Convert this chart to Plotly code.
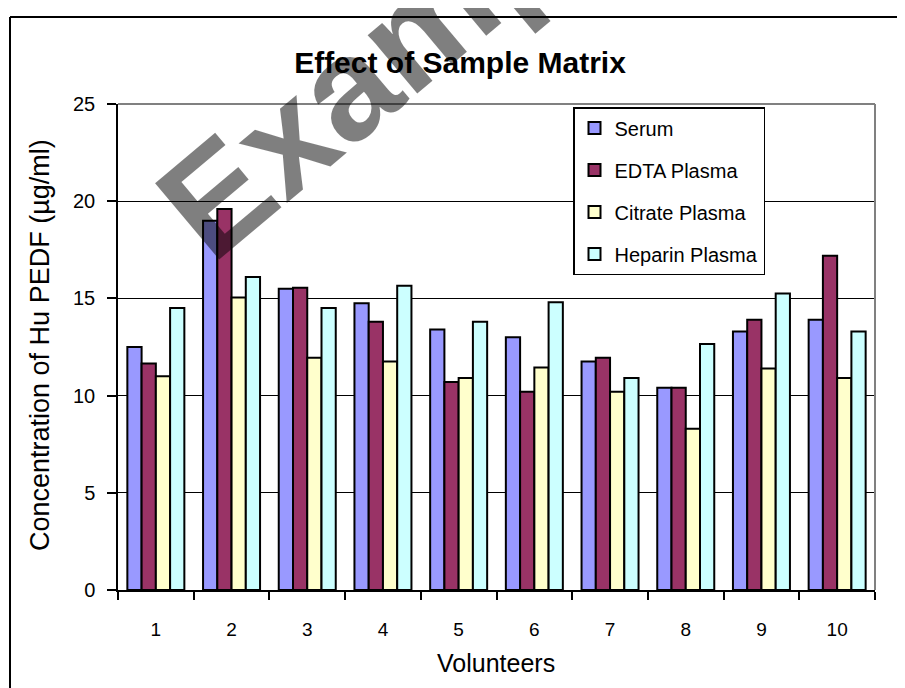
import plotly.graph_objects as go

volunteers = ["1", "2", "3", "4", "5", "6", "7", "8", "9", "10"]
serum = [12.5, 19.0, 15.5, 14.75, 13.4, 13.0, 11.75, 10.4, 13.3, 13.9]
edta = [11.65, 19.6, 15.55, 13.8, 10.7, 10.2, 11.95, 10.4, 13.9, 17.2]
citrate = [11.0, 15.05, 11.95, 11.75, 10.9, 11.45, 10.2, 8.3, 11.4, 10.9]
heparin = [14.5, 16.1, 14.5, 15.65, 13.8, 14.8, 10.9, 12.65, 15.25, 13.3]

series_names = ["Serum", "EDTA Plasma", "Citrate Plasma", "Heparin Plasma"]
series_values = [serum, edta, citrate, heparin]
series_colors = ["#9999FF", "#993366", "#FFFFCC", "#CCFFFF"]

y_ticks = [0, 5, 10, 15, 20, 25]

FONT = "Arial, 'Liberation Sans', sans-serif"

# the page body adds an 8px offset; work in screen pixels and convert
OFF = 8
W, H = 905 - OFF, 688 - OFF
L, R, T, B = 118, 875, 104, 590  # plot area in screen pixels
PW, PH = R - L, B - T


def px(xs):
    return (xs - L) / PW


def py(ys):
    return (B - ys) / PH


fig = go.Figure()
for i, (name, vals, col) in enumerate(zip(series_names, series_values, series_colors)):
    fig.add_trace(go.Bar(
        x=volunteers, y=vals, name=name, legendgroup=f"g{i}",
        marker=dict(color=col, line=dict(color="black", width=2)),
    ))

fig.update_layout(
    width=W, height=H,
    margin=dict(l=L - OFF, r=905 - R, t=T - OFF, b=688 - B),
    paper_bgcolor="white", plot_bgcolor="white",
    barmode="group", bargap=0.247, bargroupgap=0,
    font=dict(family=FONT, color="black"),
    title=dict(text="<b>Effect of Sample Matrix</b>", x=(460 - OFF) / W, xanchor="center",
               y=1 - (62 - OFF) / H, yanchor="middle", yref="container",
               font=dict(size=30, family=FONT, color="black")),
    showlegend=True,
    legend=dict(x=px(573), y=py(107), xanchor="left", yanchor="top",
                bgcolor="white", bordercolor="black", borderwidth=1.5,
                font=dict(size=20, family=FONT, color="black"),
                traceorder="grouped", tracegroupgap=13),
    xaxis=dict(type="category", showgrid=False, showline=True, linecolor="black", linewidth=1.5,
               ticks="outside", tickson="boundaries", ticklen=8, tickcolor="black", tickwidth=1.5,
               tickfont=dict(size=19, family=FONT, color="black"), ticklabelstandoff=21,
               zeroline=False),
    yaxis=dict(range=[0, 25], tickvals=y_ticks, showgrid=True, gridcolor="black", gridwidth=1,
               showline=True, linecolor="black", linewidth=1.5, ticks="outside", ticklen=9,
               tickcolor="black", tickwidth=1.5, tickfont=dict(size=20, family=FONT, color="black"),
               ticklabelstandoff=8, zeroline=False),
)

# axis titles
fig.add_annotation(text="Volunteers", xref="paper", yref="paper", x=px(496), y=py(663),
                   xanchor="center", yanchor="middle", showarrow=False,
                   font=dict(size=25, family=FONT, color="black"))
fig.add_annotation(text="Concentration of Hu PEDF (µg/ml)", xref="paper", yref="paper",
                   x=px(40), y=py(345), xanchor="center", yanchor="middle",
                   textangle=-90, showarrow=False,
                   font=dict(size=27, family=FONT, color="black"))

# plot area border (gray top / right)
fig.add_shape(type="line", xref="paper", yref="paper", x0=0, x1=1, y0=1, y1=1,
              line=dict(color="#808080", width=2), layer="above")
fig.add_shape(type="line", xref="paper", yref="paper", x0=1, x1=1, y0=0, y1=1,
              line=dict(color="#808080", width=2), layer="above")

# outer chart border (left / top)
fig.add_shape(type="line", xref="paper", yref="paper", x0=px(10), x1=px(10),
              y0=py(17), y1=py(720), line=dict(color="black", width=2))
fig.add_shape(type="line", xref="paper", yref="paper", x0=px(10), x1=px(930),
              y0=py(17), y1=py(17), line=dict(color="black", width=2))

# watermark
fig.add_annotation(text="<b>Example</b>", xref="paper", yref="paper",
                   x=px(408), y=py(36), xanchor="center", yanchor="middle",
                   textangle=-40, showarrow=False,
                   font=dict(size=145, family=FONT, color="rgba(0,0,0,0.5)"))

fig.write_html("out.html")
